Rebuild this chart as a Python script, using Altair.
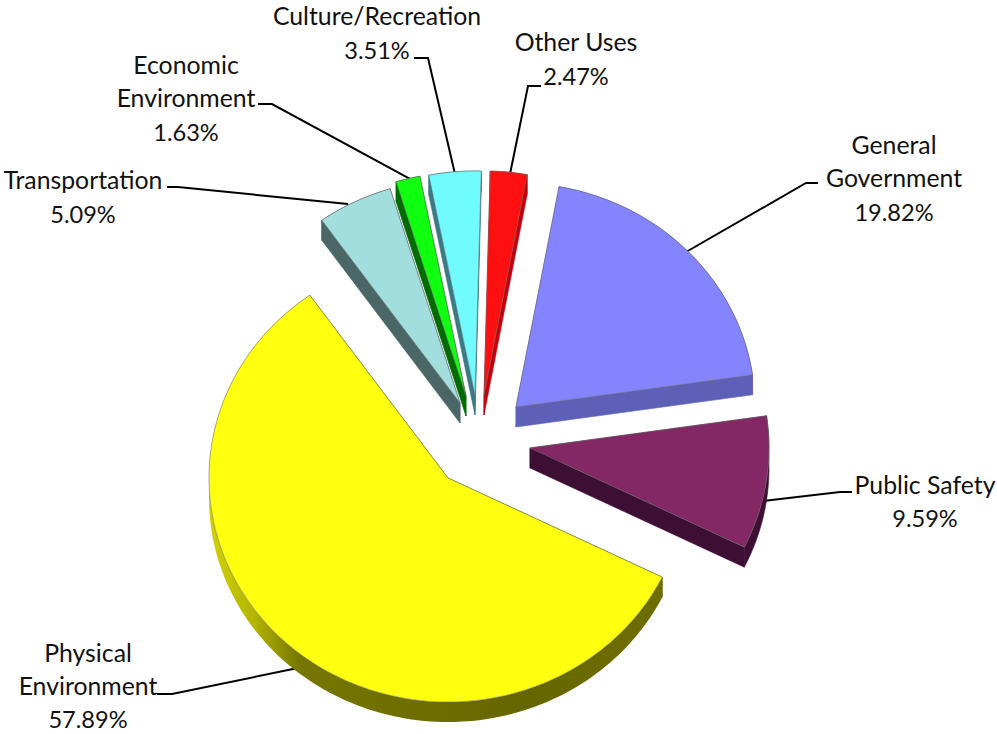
import math
import altair as alt

# Budget shares, clockwise from the slice just right of twelve o'clock
categories = ["Other Uses", "General Government", "Public Safety", "Physical Environment",
              "Transportation", "Economic Environment", "Culture/Recreation"]
shares = [2.47, 19.82, 9.59, 57.89, 5.09, 1.63, 3.51]

# Slice colours: top face and extruded side
top_colors = ["#ff1010", "#8484ff", "#832864", "#ffff10", "#a3dede", "#10ff10", "#70fcff"]
side_colors = ["#c4000c", "#5e60b8", "#3e0f35", "#6b6b00", "#4a6666", "#006c00", "#3a7a84"]

# Where each exploded slice has its tip
tip_x = [484, 516, 530, 448, 460, 466, 475]
tip_y = [395, 407, 448, 478, 403, 396, 395]

RX, RY = 239, 224   # tilted pie ellipse
DEPTH = 20          # height of the extrusion
START = 1.5         # degrees clockwise from twelve o'clock


def rim_point(cx, cy, deg):
    a = math.radians(deg)
    return [cx + RX * math.sin(a), cy - RY * math.cos(a)]


def feature(ring, fill):
    return {"type": "Feature", "properties": {"fill": fill},
            "geometry": {"type": "Polygon", "coordinates": [ring + [ring[0]]]}}


tops, sides, yellow_rim = [], [], []
angle = START
for name, share, top, side, cx, cy in zip(categories, shares, top_colors, side_colors, tip_x, tip_y):
    sweep = share * 3.6
    steps = max(4, int(sweep / 1.5))
    arc = [rim_point(cx, cy, angle + sweep * i / steps) for i in range(steps + 1)]
    tops.append(feature([[cx, cy]] + arc, top))
    lowered = [[x, y + DEPTH] for x, y in arc]
    rim = feature(arc + lowered[::-1], side)
    if name == "Physical Environment":
        yellow_rim.append(rim)
    else:
        sides.append(rim)
    for x, y in (arc[0], arc[-1]):
        sides.append(feature([[cx, cy], [x, y], [x, y + DEPTH], [cx, cy + DEPTH]], side))
    angle += sweep

# Leader lines, from label to slice
leaders = {
    "Other Uses": [(540, 86), (528, 86), (510, 174)],
    "General Government": [(817, 183), (806, 183), (686, 252)],
    "Public Safety": [(851, 492), (840, 492), (764, 501)],
    "Physical Environment": [(158, 694), (172, 694), (298, 668)],
    "Transportation": [(168, 187), (178, 187), (347, 204)],
    "Economic Environment": [(259, 104), (272, 104), (410, 179)],
    "Culture/Recreation": [(415, 58), (428, 58), (455, 174)],
}
leader_rows = [{"slice": k, "order": i, "x": x, "y": y}
               for k, pts in leaders.items() for i, (x, y) in enumerate(pts)]

# Label blocks: centre x and the y of each line
label_lines = {
    "Other Uses": (576, [("Other Uses", 44)], 78),
    "General Government": (894, [("General", 147), ("Government", 180)], 214),
    "Public Safety": (925, [("Public Safety", 487)], 520),
    "Physical Environment": (88, [("Physical", 655), ("Environment", 688)], 721),
    "Transportation": (83, [("Transportation", 182)], 216),
    "Economic Environment": (186, [("Economic", 67), ("Environment", 100)], 134),
    "Culture/Recreation": (377, [("Culture/Recreation", 18)], 52),
}
text_rows = []
for name, share in zip(categories, shares):
    lx, lines, pct_y = label_lines[name]
    for text, ly in lines:
        text_rows.append({"text": text, "x": lx, "y": ly, "size": 24.8})
    text_rows.append({"text": f"{share:.2f}%", "x": lx, "y": pct_y, "size": 23.6})

projection = alt.Projection(type="identity", scale=1, translate=[0, 0])
no_scale = alt.Scale(domain=[0, 997], range=[0, 997])
no_scale_y = alt.Scale(domain=[0, 734], range=[0, 734])

lines_layer = alt.Chart(alt.Data(values=leader_rows)).mark_line(
    color="black", strokeWidth=2, strokeCap="square"
).encode(
    x=alt.X("x:Q", scale=no_scale, axis=None),
    y=alt.Y("y:Q", scale=no_scale_y, axis=None),
    detail="slice:N",
    order="order:Q",
)

sides_layer = alt.Chart(alt.Data(values=sides)).mark_geoshape(strokeWidth=0.6).encode(
    fill=alt.Fill("properties.fill:N", scale=None),
    stroke=alt.Stroke("properties.fill:N", scale=None),
).project(**projection.to_dict())

yellow_rim_layer = alt.Chart(alt.Data(values=yellow_rim)).mark_geoshape(
    strokeWidth=0,
    fill=alt.LinearGradient(
        gradient="linear", x1=0, x2=1, y1=0, y2=0,
        stops=[
            alt.GradientStop(color="#d2d200", offset=0),
            alt.GradientStop(color="#b4b400", offset=0.1),
            alt.GradientStop(color="#767600", offset=0.2),
            alt.GradientStop(color="#666600", offset=0.7),
            alt.GradientStop(color="#6e6e00", offset=1),
        ],
    ),
).project(**projection.to_dict())

tops_layer = alt.Chart(alt.Data(values=tops)).mark_geoshape(
    stroke="#6e6e6e", strokeWidth=0.8, strokeOpacity=0.7
).encode(
    fill=alt.Fill("properties.fill:N", scale=None),
).project(**projection.to_dict())

text_layer = alt.Chart(alt.Data(values=text_rows)).mark_text(
    font="Lato", color="#111111", align="center", baseline="middle"
).encode(
    x=alt.X("x:Q", scale=no_scale, axis=None),
    y=alt.Y("y:Q", scale=no_scale_y, axis=None),
    size=alt.Size("size:Q", scale=None),
    text="text:N",
)

chart = alt.layer(lines_layer, sides_layer, yellow_rim_layer, tops_layer, text_layer).resolve_scale(
    x="shared", y="shared"
).properties(
    width=997, height=734, padding=0, autosize=alt.AutoSizeParams(type="none"), background="white"
).configure_view(stroke=None)

chart.save("out.html", embed_options={"renderer": "svg", "actions": False})
